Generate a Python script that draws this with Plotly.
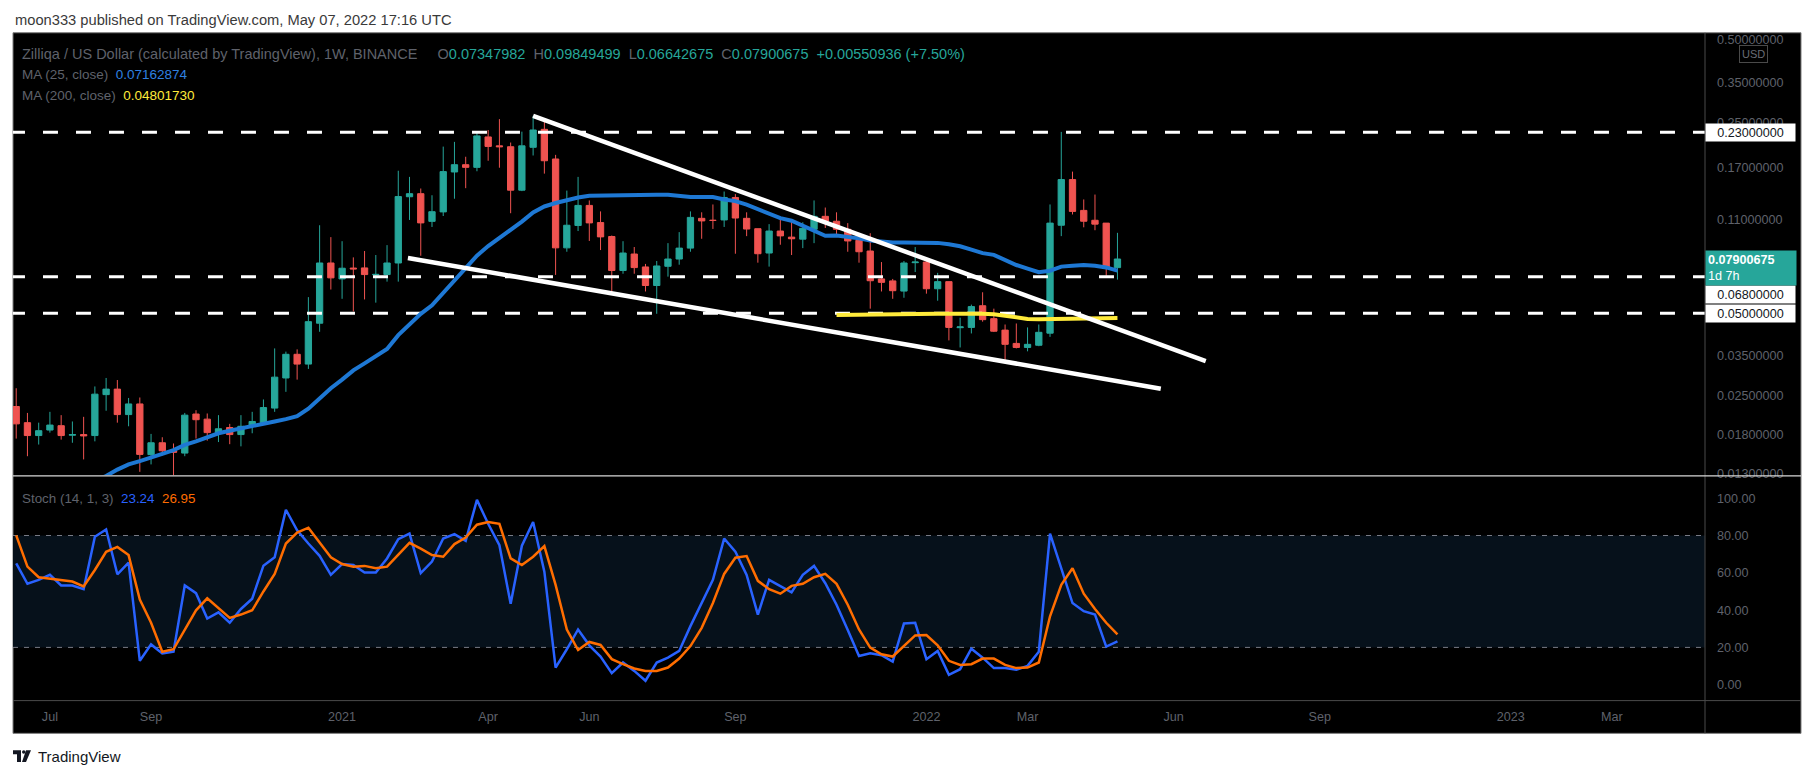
import numpy as np
import pandas as pd
import plotly.graph_objects as go

W, H = 1813, 783
FONT = "Liberation Sans"

# ---------------- data ----------------
dates = pd.date_range("2020-06-15", periods=99, freq="7D")

opens = [0.0228, 0.0199, 0.01785, 0.0187, 0.0194, 0.0179, 0.0180, 0.01785, 0.0252, 0.0264,
         0.0213, 0.0233, 0.0152, 0.0168, 0.0157, 0.0154, 0.0214, 0.0205, 0.0183, 0.0191,
         0.0180, 0.0193, 0.0199, 0.0225, 0.0290, 0.0354, 0.0326, 0.0460, 0.0764, 0.0668,
         0.0732, 0.0733, 0.0691, 0.0693, 0.0764, 0.1335, 0.1370, 0.1085, 0.1175, 0.1645,
         0.1749, 0.1710, 0.2210, 0.2050, 0.2035, 0.1411, 0.2025, 0.2356, 0.1835, 0.0868,
         0.1048, 0.1241, 0.1074, 0.0955, 0.0717, 0.0824, 0.0739, 0.0632, 0.0743, 0.0790,
         0.0866, 0.1113, 0.1096, 0.1098, 0.1327, 0.1113, 0.1020, 0.0831, 0.1000, 0.0950,
         0.0934, 0.1015, 0.1132, 0.1086, 0.1015, 0.0925, 0.0845, 0.0668, 0.0657, 0.0603,
         0.0766, 0.0770, 0.0615, 0.0653, 0.0443, 0.0444, 0.0533, 0.0478, 0.0434, 0.0388,
         0.0375, 0.0382, 0.0423, 0.1050, 0.1543, 0.1190, 0.1095, 0.1069, 0.07347982]
highs = [0.0266, 0.0216, 0.0199, 0.0218, 0.0212, 0.0201, 0.0209, 0.0270, 0.0290, 0.0285,
         0.0245, 0.0246, 0.0181, 0.0176, 0.0167, 0.0216, 0.0221, 0.0215, 0.0212, 0.0197,
         0.0212, 0.0218, 0.0242, 0.0372, 0.0362, 0.0369, 0.0573, 0.1050, 0.0950, 0.0918,
         0.0801, 0.0845, 0.0817, 0.0888, 0.1662, 0.1578, 0.1431, 0.1352, 0.2037, 0.2120,
         0.1870, 0.2297, 0.2343, 0.2568, 0.2108, 0.2310, 0.2640, 0.2526, 0.1900, 0.1406,
         0.1578, 0.1294, 0.1180, 0.0963, 0.0918, 0.0874, 0.0758, 0.0777, 0.0903, 0.0991,
         0.1180, 0.1171, 0.1251, 0.1395, 0.1365, 0.1171, 0.1020, 0.1060, 0.1122, 0.1086,
         0.1077, 0.1294, 0.1219, 0.1171, 0.1069, 0.0934, 0.0982, 0.0770, 0.0668, 0.0777,
         0.0874, 0.0783, 0.0703, 0.0653, 0.0482, 0.0538, 0.0597, 0.0520, 0.0455, 0.0459,
         0.0444, 0.0455, 0.1251, 0.2306, 0.1650, 0.1305, 0.1360, 0.1069, 0.09849499]
lows = [0.0174, 0.0150, 0.01655, 0.0183, 0.01725, 0.0168, 0.0146, 0.0170, 0.0220, 0.0199,
        0.0193, 0.01315, 0.0140, 0.0151, 0.0127, 0.0150, 0.0174, 0.0171, 0.0169, 0.0166,
        0.0163, 0.0182, 0.0196, 0.0218, 0.0258, 0.0286, 0.0313, 0.0428, 0.0611, 0.0565,
        0.0508, 0.0562, 0.0547, 0.0653, 0.0653, 0.1098, 0.0812, 0.1035, 0.1135, 0.1313,
        0.1435, 0.1655, 0.1808, 0.1705, 0.1162, 0.1400, 0.1890, 0.1622, 0.0691, 0.0840,
        0.1000, 0.0920, 0.0852, 0.0598, 0.0698, 0.0698, 0.0601, 0.0498, 0.0681, 0.0753,
        0.0840, 0.0937, 0.1018, 0.1035, 0.0826, 0.0958, 0.0766, 0.0741, 0.0891, 0.0817,
        0.0866, 0.0903, 0.1026, 0.0960, 0.0840, 0.0766, 0.0520, 0.0601, 0.0565, 0.0570,
        0.0708, 0.0590, 0.0556, 0.0398, 0.0375, 0.0422, 0.0466, 0.0427, 0.0332, 0.0372,
        0.0363, 0.0379, 0.0410, 0.0958, 0.1150, 0.1032, 0.1007, 0.0686, 0.06642675]
closes = [0.0197, 0.01785, 0.0186, 0.0195, 0.01785, 0.0180, 0.0178, 0.0253, 0.0264, 0.0213,
          0.0233, 0.01523, 0.0168, 0.0157, 0.0155, 0.0212, 0.0204, 0.0183, 0.0189, 0.0180,
          0.0193, 0.0201, 0.0226, 0.0292, 0.0354, 0.0326, 0.0466, 0.0764, 0.0674, 0.0731,
          0.0727, 0.0693, 0.0694, 0.0764, 0.1337, 0.1370, 0.1071, 0.1177, 0.1650, 0.1749,
          0.1710, 0.2229, 0.2040, 0.2035, 0.1411, 0.2050, 0.2343, 0.1808, 0.0868, 0.1050,
          0.1241, 0.1071, 0.0952, 0.0717, 0.0831, 0.0735, 0.0632, 0.0745, 0.0790, 0.0866,
          0.1122, 0.1089, 0.1093, 0.1327, 0.1116, 0.1017, 0.0826, 0.1000, 0.0960, 0.0937,
          0.1023, 0.1132, 0.1086, 0.1015, 0.0920, 0.0840, 0.0658, 0.0649, 0.0605, 0.0764,
          0.0770, 0.0615, 0.0653, 0.0444, 0.0446, 0.0529, 0.0474, 0.0430, 0.0385, 0.0375,
          0.0385, 0.0426, 0.1069, 0.1543, 0.1180, 0.1086, 0.1060, 0.0733, 0.07900675]

ma25 = [None] * 7 + [
    0.0122, 0.0127, 0.0134, 0.0140, 0.0144, 0.0148, 0.0153, 0.0158, 0.0165, 0.0170,
    0.0176, 0.0182, 0.0186, 0.0190, 0.0194, 0.0197, 0.0201, 0.0205, 0.0210, 0.0224,
    0.0245, 0.0266, 0.0286, 0.0309, 0.0328, 0.0348, 0.0370, 0.0416, 0.0456, 0.0498,
    0.0535, 0.0594, 0.0655, 0.0729, 0.0813, 0.0881, 0.0941, 0.1014, 0.1083, 0.1170,
    0.1230, 0.1266, 0.1296, 0.1326, 0.1346, 0.1349, 0.1355, 0.1357, 0.1357, 0.1357,
    0.1357, 0.1357, 0.1344, 0.1331, 0.1331, 0.1331, 0.1304, 0.1287, 0.1249, 0.1203,
    0.1160, 0.1115, 0.1091, 0.1044, 0.0996, 0.0961, 0.0963, 0.0955, 0.0940, 0.0924,
    0.0915, 0.0908, 0.0908, 0.0908, 0.0908, 0.0905, 0.0894, 0.0880, 0.0855, 0.0830,
    0.0818, 0.0785, 0.0751, 0.0729, 0.0707, 0.0716, 0.0741, 0.0746, 0.0751, 0.0747,
    0.0736, 0.07162874]

ma200 = [None] * 73 + [
    0.0493, 0.0494, 0.0494, 0.0495, 0.0495, 0.0496, 0.0496, 0.0497, 0.0497, 0.0498,
    0.0498, 0.0499, 0.0499, 0.0498, 0.0496, 0.0489, 0.0482, 0.0477, 0.0476, 0.0477,
    0.0478, 0.0479, 0.0479, 0.0480, 0.0480, 0.04801730]

stoch_k = [65.1, 54.1, 56.2, 58.9, 53.2, 53.2, 51.2, 79.3, 83.2, 59.2,
           65.4, 12.8, 21.6, 16.8, 17.7, 53.2, 49.1, 35.5, 38.8, 33.2,
           40.6, 46.1, 63.8, 68.3, 93.8, 82.8, 75.7, 69.1, 58.9, 64.7,
           64.2, 60.1, 60.1, 67.7, 78.0, 81.0, 59.8, 66.0, 78.4, 80.7,
           77.1, 99.1, 86.3, 74.8, 43.4, 74.5, 87.2, 60.6, 9.2, 19.0,
           29.6, 21.1, 15.1, 6.2, 11.9, 7.4, 2.1, 11.9, 14.5, 18.1,
           31.4, 43.8, 56.2, 78.4, 71.3, 58.9, 37.6, 56.2, 52.7, 49.5,
           58.9, 63.7, 54.4, 42.9, 29.3, 15.4, 16.8, 15.8, 12.4, 32.8,
           33.2, 13.7, 18.1, 5.3, 8.3, 19.3, 14.5, 8.9, 8.9, 8.0,
           10.1, 17.7, 81.0, 62.4, 43.8, 39.4, 37.6, 20.4, 23.24]
stoch_d = [80.1, 63.3, 57.6, 56.7, 56.2, 55.3, 52.7, 61.5, 71.3, 73.9,
           69.5, 45.6, 33.2, 17.7, 19.0, 29.6, 39.9, 46.3, 41.1, 35.8,
           37.6, 39.9, 50.0, 59.4, 75.7, 81.6, 84.2, 76.1, 68.3, 64.7,
           63.3, 63.7, 62.4, 63.3, 69.5, 76.1, 73.0, 69.5, 68.6, 75.4,
           78.9, 85.8, 87.2, 86.3, 67.7, 64.2, 68.6, 74.3, 53.5, 29.6,
           18.6, 22.9, 21.3, 13.7, 11.0, 8.7, 7.4, 7.4, 9.2, 14.0,
           20.7, 30.5, 43.8, 59.4, 68.1, 69.0, 55.7, 51.2, 48.8, 53.0,
           54.1, 57.6, 59.4, 54.1, 42.9, 29.6, 19.9, 16.3, 15.1, 20.7,
           26.4, 26.6, 21.1, 12.8, 10.6, 11.0, 14.0, 14.0, 10.6, 8.9,
           9.2, 11.9, 36.7, 53.5, 62.4, 48.8, 40.6, 33.2, 26.95]

levels = [0.23, 0.068, 0.05]
upper_trend_dates = ["2021-05-03", "2022-06-26"]
upper_trend_prices = [0.264, 0.0334]
lower_trend_dates = ["2021-02-14", "2022-05-29"]
lower_trend_prices = [0.0797, 0.0265]

price_ticks = [0.5, 0.35, 0.25, 0.17, 0.11, 0.035, 0.025, 0.018, 0.013]
stoch_ticks = [0, 20, 40, 60, 80, 100]
time_tick_dates = ["2020-07-06", "2020-09-07", "2021-01-04", "2021-04-05", "2021-06-07",
                   "2021-09-06", "2022-01-03", "2022-03-07", "2022-06-06", "2022-09-05",
                   "2023-01-02", "2023-03-06"]
time_tick_labels = ["Jul", "Sep", "2021", "Apr", "Jun", "Sep", "2022", "Mar", "Jun", "Sep",
                    "2023", "Mar"]
last_close = closes[-1]

# ---------------- layout helpers ----------------
def px(x):
    return x / W


def py(y):
    return 1 - y / H


PLOT_L, PLOT_R, PANEL_R = 13, 1705, 1801
MAIN_T, MAIN_B = 34, 478
ST_T, ST_B = 480, 704

TEAL, RED = "#26a69a", "#ef5350"
GRAY_TXT = "#5f626b"

fig = go.Figure()

# level lines
for lv in levels:
    fig.add_trace(go.Scatter(x=["2020-05-01", "2023-06-30"], y=[lv, lv], mode="lines",
                             line=dict(color="white", width=3, dash="15px,18px"),
                             xaxis="x", yaxis="y", hoverinfo="skip", showlegend=False))

# moving averages
fig.add_trace(go.Scatter(x=dates, y=ma200, mode="lines", line=dict(color="#ffeb3b", width=4),
                         xaxis="x", yaxis="y", hoverinfo="skip", showlegend=False))
fig.add_trace(go.Scatter(x=dates, y=ma25, mode="lines", line=dict(color="#1e78d4", width=4),
                         xaxis="x", yaxis="y", hoverinfo="skip", showlegend=False))

# candles
fig.add_trace(go.Candlestick(
    x=dates, open=opens, high=highs, low=lows, close=closes,
    increasing=dict(line=dict(color=TEAL, width=1), fillcolor=TEAL),
    decreasing=dict(line=dict(color=RED, width=1), fillcolor=RED),
    whiskerwidth=0, xaxis="x", yaxis="y", hoverinfo="skip", showlegend=False))

# trend lines
for dx, dy in [(upper_trend_dates, upper_trend_prices), (lower_trend_dates, lower_trend_prices)]:
    fig.add_trace(go.Scatter(x=dx, y=dy, mode="lines", line=dict(color="white", width=4.5),
                             xaxis="x", yaxis="y", hoverinfo="skip", showlegend=False))

# stochastic
fig.add_trace(go.Scatter(x=dates, y=stoch_k, mode="lines", line=dict(color="#2962ff", width=2.5),
                         xaxis="x", yaxis="y2", hoverinfo="skip", showlegend=False))
fig.add_trace(go.Scatter(x=dates, y=stoch_d, mode="lines", line=dict(color="#ff6d00", width=2.5),
                         xaxis="x", yaxis="y2", hoverinfo="skip", showlegend=False))

shapes = [
    # black panel
    dict(type="rect", xref="paper", yref="paper", x0=px(PLOT_L), x1=px(PANEL_R),
         y0=py(738), y1=py(32), fillcolor="black", line=dict(color="#7a7a7a", width=1),
         layer="below"),
    # stoch band
    dict(type="rect", xref="paper", yref="y2", x0=px(PLOT_L), x1=px(PLOT_R), y0=20, y1=80,
         fillcolor="#06111b", line=dict(width=0), layer="below"),
    dict(type="line", xref="paper", yref="y2", x0=px(PLOT_L), x1=px(PLOT_R), y0=80, y1=80,
         line=dict(color="#787b86", width=1, dash="5px,6px"), layer="below"),
    dict(type="line", xref="paper", yref="y2", x0=px(PLOT_L), x1=px(PLOT_R), y0=20, y1=20,
         line=dict(color="#787b86", width=1, dash="5px,6px"), layer="below"),
    # separators
    dict(type="line", xref="paper", yref="paper", x0=px(PLOT_R), x1=px(PLOT_R),
         y0=py(738), y1=py(32), line=dict(color="#4a4a4a", width=1)),
    dict(type="line", xref="paper", yref="paper", x0=px(PLOT_L), x1=px(PANEL_R),
         y0=py(478.5), y1=py(478.5), line=dict(color="#d8d8d8", width=1.2)),
    dict(type="line", xref="paper", yref="paper", x0=px(PLOT_L), x1=px(PANEL_R),
         y0=py(705), y1=py(705), line=dict(color="#4a4a4a", width=1)),
    # TradingView logo
    dict(type="path", xref="paper", yref="paper",
         path=f"M {px(13)} {py(755)} L {px(21)} {py(755)} L {px(21)} {py(767)} L {px(17)} {py(767)} "
              f"L {px(17)} {py(759)} L {px(13)} {py(759)} Z",
         fillcolor="#131722", line=dict(width=0)),
    dict(type="circle", xref="paper", yref="paper", x0=px(22), x1=px(25.5), y0=py(755), y1=py(758.5),
         fillcolor="#131722", line=dict(width=0)),
    dict(type="path", xref="paper", yref="paper",
         path=f"M {px(26)} {py(755)} L {px(31)} {py(755)} L {px(26)} {py(767)} L {px(22)} {py(767)} Z",
         fillcolor="#131722", line=dict(width=0)),
]

annotations = []


def add_text(x, y, text, size=13, color=GRAY_TXT, xanchor="left"):
    annotations.append(dict(xref="paper", yref="paper", x=px(x), y=py(y), text=text,
                            showarrow=False, xanchor=xanchor, yanchor="middle", align="left",
                            font=dict(family=FONT, size=size, color=color)))


SP = "&nbsp;"
add_text(13, 19.5, "moon333 published on TradingView.com, May 07, 2022 17:16 UTC", 14.7, "#3a3a3a")
tv = TEAL
add_text(20, 53,
         "Zilliqa / US Dollar (calculated by TradingView), 1W, BINANCE" + SP * 5 +
         f"O<span style='color:{tv}'>0.07347982</span>" + SP * 2 +
         f"H<span style='color:{tv}'>0.09849499</span>" + SP * 2 +
         f"L<span style='color:{tv}'>0.06642675</span>" + SP * 2 +
         f"C<span style='color:{tv}'>0.07900675</span>" + SP * 2 +
         f"<span style='color:{tv}'>+0.00550936 (+7.50%)</span>", 14.5)
add_text(20, 74, "MA (25, close)" + SP * 2 + "<span style='color:#2f80e0'>0.07162874</span>", 13.5)
add_text(20, 95, "MA (200, close)" + SP * 2 + "<span style='color:#ffeb3b'>0.04801730</span>", 13.5)
add_text(20, 501, "Stoch (14, 1, 3)" + SP * 2 + "<span style='color:#2962ff'>23.24</span>"
         + SP * 2 + "<span style='color:#ff6d00'>26.95</span>", 13.4)
add_text(36, 761, "TradingView", 15, "#131722")

# USD badge
annotations.append(dict(xref="paper", yref="paper", x=px(1753), y=py(53), text="USD",
                        showarrow=False, xanchor="center", yanchor="middle",
                        font=dict(family=FONT, size=11, color="#6a6d76"),
                        bordercolor="#4a4a4a", borderwidth=1, borderpad=2, bgcolor="black"))

# price level labels on the scale
shifts = {0.23: 0, 0.068: -18, 0.05: 0}
for lv in levels:
    annotations.append(dict(xref="paper", yref="y", x=px(PLOT_R), y=np.log10(lv),
                            text=f"{lv:.8f}", showarrow=False, xanchor="left", yanchor="middle",
                            yshift=shifts[lv], width=86, align="center", bgcolor="white",
                            borderpad=1.5, font=dict(family=FONT, size=12.6, color="#131722")))
annotations.append(dict(xref="paper", yref="y", x=px(PLOT_R), y=np.log10(last_close),
                        text=f"<b>{last_close:.8f}</b><br>1d 7h", showarrow=False,
                        xanchor="left", yanchor="top", yshift=9, width=86, align="left",
                        bgcolor=TEAL, borderpad=2,
                        font=dict(family=FONT, size=12.6, color="white")))

tick_font = dict(family=FONT, size=12.6, color=GRAY_TXT)
fig.update_layout(
    width=W, height=H, margin=dict(l=0, r=0, t=0, b=0),
    paper_bgcolor="white", plot_bgcolor="black",
    hovermode=False, showlegend=False, boxgap=0.2,
    xaxis=dict(domain=[px(PLOT_L), px(PLOT_R)], range=["2020-06-13", "2023-05-03"],
               anchor="y2", tickvals=time_tick_dates, ticktext=time_tick_labels,
               tickfont=tick_font, showgrid=False,
               zeroline=False, showline=False, ticks="", ticklabelstandoff=8,
               rangeslider=dict(visible=False), fixedrange=True),
    yaxis=dict(domain=[py(MAIN_B), py(MAIN_T)], type="log", range=[-1.8939, -0.2817],
               side="right", anchor="x", tickvals=price_ticks,
               ticktext=[f"{v:.8f}" for v in price_ticks],
               tickfont=tick_font, showgrid=False,
               zeroline=False, showline=False, ticks="", ticklabelstandoff=11),
    yaxis2=dict(domain=[py(ST_B), py(ST_T)], range=[-8.0, 111.2], side="right", anchor="x",
                tickvals=stoch_ticks, ticktext=[f"{v:.2f}" for v in stoch_ticks],
                tickfont=tick_font, showgrid=False,
                zeroline=False, showline=False, ticks="", ticklabelstandoff=11),
    shapes=shapes, annotations=annotations,
)

fig.write_html("out.html", config={"displayModeBar": False},
               post_script="document.body.style.margin='0px';")
